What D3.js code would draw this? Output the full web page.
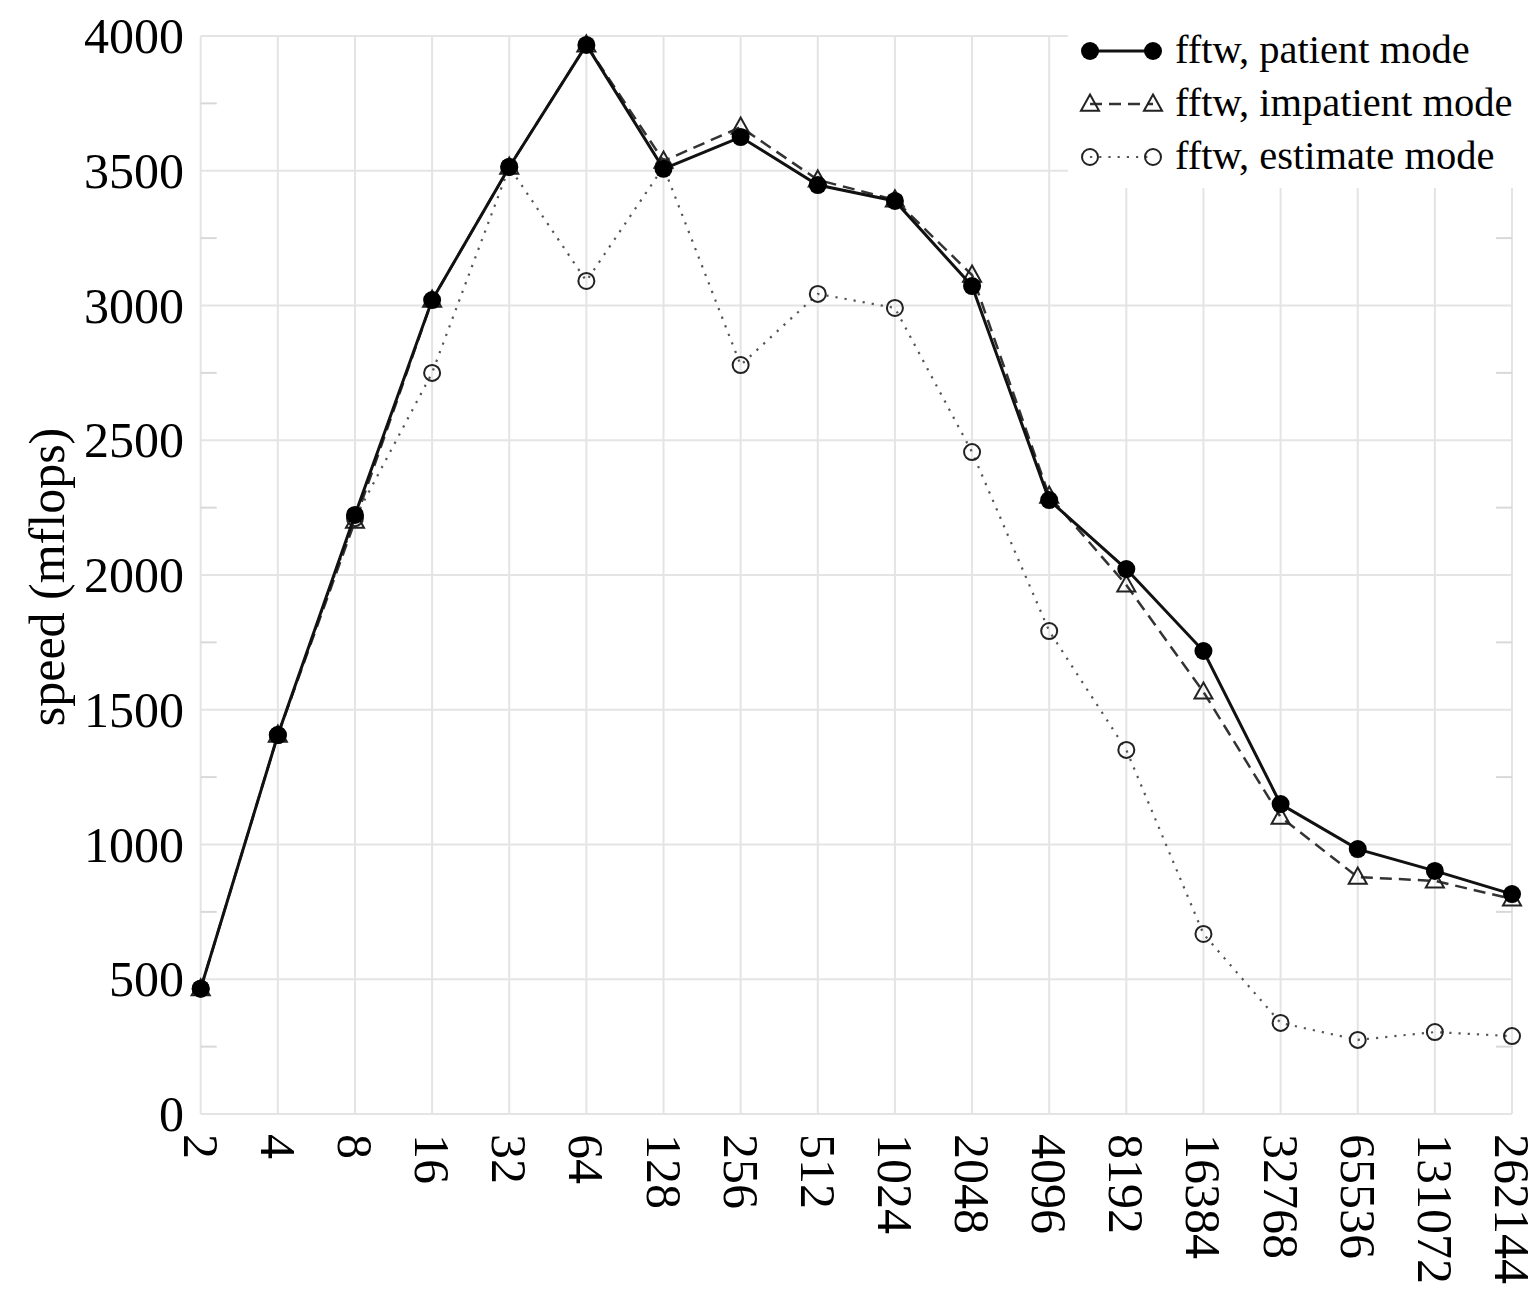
<!DOCTYPE html>
<html><head><meta charset="utf-8">
<script src="https://cdn.jsdelivr.net/npm/d3@7"></script>
<style>body{margin:0;background:#fff}svg{display:block}</style>
</head><body>
<svg id="c" width="1539" height="1290"></svg>
<script>
const sizes = ["2","4","8","16","32","64","128","256","512","1024","2048","4096","8192","16384","32768","65536","131072","262144"];
const patient   = [465,1406,2223,3020,3514,3967,3507,3625,3447,3388,3072,2278,2022,1718,1150,983,902,816];
const impatient = [465,1406,2200,3020,3514,3967,3536,3662,3466,3392,3113,2293,1963,1566,1102,879,865,798];
const estimate  = [465,1406,2211,2750,3514,3091,3514,2779,3043,2991,2456,1792,1351,668,338,275,304,289];
const yTicks = [0,500,1000,1500,2000,2500,3000,3500,4000];
const yMinor = [250,750,1250,1750,2250,2750,3250,3750];
const seriesNames = ["fftw, patient mode","fftw, impatient mode","fftw, estimate mode"];

const svg = d3.select("#c");
const x = d3.scalePoint().domain(sizes).range([200.7, 1512]);
const y = d3.scaleLinear().domain([0,4000]).range([1114, 36]);
const serif = "'Liberation Serif','Times New Roman',serif";
const grid = "#e4e4e4";

svg.append("g").selectAll("line").data(sizes).join("line")
  .attr("x1", d=>x(d)).attr("x2", d=>x(d)).attr("y1", y(0)).attr("y2", y(4000))
  .attr("stroke", grid).attr("stroke-width", 2);
svg.append("g").selectAll("line").data(yTicks).join("line")
  .attr("x1", x(sizes[0])).attr("x2", x(sizes[sizes.length-1])).attr("y1", d=>y(d)).attr("y2", d=>y(d))
  .attr("stroke", grid).attr("stroke-width", 2);
const mt = svg.append("g");
mt.selectAll("line.l").data(yMinor).join("line").attr("class","l")
  .attr("x1", x(sizes[0])).attr("x2", x(sizes[0])+16).attr("y1", d=>y(d)).attr("y2", d=>y(d))
  .attr("stroke", "#d8d8d8").attr("stroke-width", 2);
mt.selectAll("line.r").data(yMinor).join("line").attr("class","r")
  .attr("x1", x(sizes[sizes.length-1])-16).attr("x2", x(sizes[sizes.length-1])).attr("y1", d=>y(d)).attr("y2", d=>y(d))
  .attr("stroke", "#d8d8d8").attr("stroke-width", 2);

svg.append("g").selectAll("text").data(yTicks).join("text")
  .attr("x", 184).attr("y", d=>y(d)).attr("dy", "0.34em")
  .attr("text-anchor","end").attr("font-family", serif).attr("font-size", 50).attr("fill","#000")
  .text(d=>d);
svg.append("g").selectAll("text").data(sizes).join("text")
  .attr("transform", d=>`translate(${x(d)},1134) rotate(90)`)
  .attr("dy","0.34em").attr("text-anchor","start")
  .attr("font-family", serif).attr("font-size", 50).attr("fill","#000")
  .text(d=>d);
svg.append("text").attr("transform","translate(47,577) rotate(-90)")
  .attr("text-anchor","middle").attr("dy","0.34em")
  .attr("font-family", serif).attr("font-size", 50).attr("fill","#000")
  .text("speed (mflops)");

const line = d3.line().x((d,i)=>x(sizes[i])).y(d=>y(d));
const styles = [
  {data: patient, stroke:"#111", width:3, dash:null},
  {data: impatient, stroke:"#333", width:2.5, dash:"12,7"},
  {data: estimate, stroke:"#555", width:2.2, dash:"2.2,7"}
];
const order = [2,1,0];
function marker(g, k, cx, cy){
  if(k===0){
    g.append("circle").attr("cx",cx).attr("cy",cy).attr("r",9).attr("fill","#000");
  } else if(k===1){
    const s=9.5;
    g.append("path").attr("d", `M${cx},${cy-s}L${cx+s*0.95},${cy+s*0.7}L${cx-s*0.95},${cy+s*0.7}Z`)
      .attr("fill","none").attr("stroke","#222").attr("stroke-width",2);
  } else {
    g.append("circle").attr("cx",cx).attr("cy",cy).attr("r",8).attr("fill","none")
      .attr("stroke","#222").attr("stroke-width",2);
  }
}
order.forEach(k=>{
  const s = styles[k];
  const g = svg.append("g");
  g.append("path").datum(s.data).attr("d", line).attr("fill","none")
    .attr("stroke", s.stroke).attr("stroke-width", s.width)
    .attr("stroke-dasharray", s.dash);
  s.data.forEach((v,i)=>marker(g,k,x(sizes[i]),y(v)));
});

const lg = svg.append("g");
lg.append("rect").attr("x",1068).attr("y",0).attr("width",471).attr("height",188).attr("fill","#fff");
const rowsY = [51,104,157];
seriesNames.forEach((n,k)=>{
  const s = styles[k];
  const ly = rowsY[k];
  lg.append("line").attr("x1",1090).attr("x2",1153).attr("y1",ly).attr("y2",ly)
    .attr("stroke",s.stroke).attr("stroke-width",s.width).attr("stroke-dasharray",s.dash);
  marker(lg,k,1090,ly); marker(lg,k,1153,ly);
  lg.append("text").attr("x",1175).attr("y",ly).attr("dy","0.3em")
    .attr("font-family",serif).attr("font-size",40.5).attr("fill","#000").text(n);
});
</script>
</body></html>
